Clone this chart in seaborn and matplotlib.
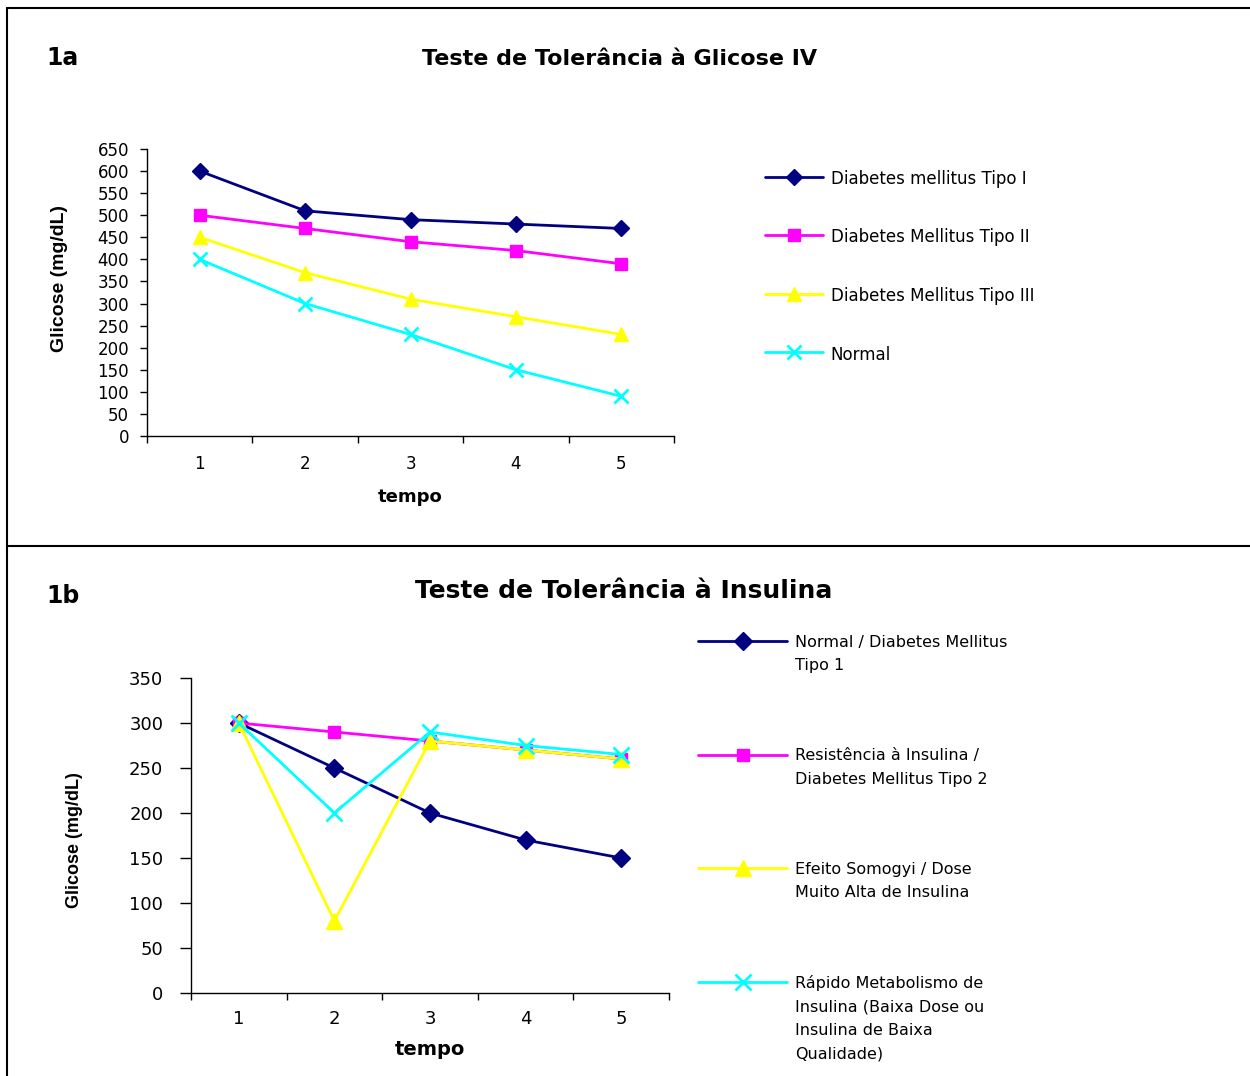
import seaborn as sns
import matplotlib.pyplot as plt
from matplotlib.lines import Line2D

# eixo x (tempo)
tempo = [1, 2, 3, 4, 5]

# 1a - Teste de Tolerância à Glicose IV
dm_tipo_i = [600, 510, 490, 480, 470]
dm_tipo_ii = [500, 470, 440, 420, 390]
dm_tipo_iii = [450, 370, 310, 270, 230]
normal = [400, 300, 230, 150, 90]
labels_1a = ['Diabetes mellitus Tipo I', 'Diabetes Mellitus Tipo II',
             'Diabetes Mellitus Tipo III', 'Normal']

# 1b - Teste de Tolerância à Insulina
normal_dm1 = [300, 250, 200, 170, 150]
resistencia = [300, 290, 280, 270, 260]
somogyi = [300, 80, 280, 270, 260]
rapido = [300, 200, 290, 275, 265]
labels_1b = ['Normal / Diabetes Mellitus\nTipo 1',
             'Resistência à Insulina /\nDiabetes Mellitus Tipo 2',
             'Efeito Somogyi / Dose\nMuito Alta de Insulina',
             'Rápido Metabolismo de\nInsulina (Baixa Dose ou\nInsulina de Baixa\nQualidade)']

colors = ['#000080', '#FF00FF', '#FFFF00', '#00FFFF']
markers = ['D', 's', '^', 'x']

sns.set_style('ticks')
plt.rcParams['font.family'] = ['DejaVu Sans']
plt.rcParams.update({'text.color': 'black', 'axes.labelcolor': 'black',
                     'xtick.color': 'black', 'ytick.color': 'black'})

W, H = 1250, 1076
fig = plt.figure(figsize=(W / 100, H / 100), dpi=100)


def px_axes(left, top, right, bottom):
    return fig.add_axes([left / W, 1 - bottom / H, (right - left) / W, (bottom - top) / H])


def draw_panel(ax, series, labels, ymax, msizes, tick_font, tick_pad, ytick_len, ytick_pad):
    for values, label, c, m, ms in zip(series, labels, colors, markers, msizes):
        sns.lineplot(x=tempo, y=values, ax=ax, label=label, color=c, linewidth=2,
                     marker=m, markersize=ms, markeredgecolor=c,
                     markeredgewidth=2 if m == 'x' else 1)
    ax.set_xlim(0.5, 5.5)
    ax.set_ylim(0, ymax)
    ax.set_yticks(range(0, ymax + 1, 50))
    ax.set_xticks([0.5, 1.5, 2.5, 3.5, 4.5, 5.5], labels=[])
    ax.set_xticks(tempo, labels=[str(t) for t in tempo], minor=True)
    ax.tick_params(axis='x', which='major', length=5, width=1, color='black')
    ax.tick_params(axis='x', which='minor', length=0, pad=tick_pad, labelsize=tick_font)
    ax.tick_params(axis='y', length=ytick_len, width=1, color='black', pad=ytick_pad,
                   labelsize=tick_font)
    for s in ['left', 'bottom']:
        ax.spines[s].set_color('black')
        ax.spines[s].set_linewidth(1)
    sns.despine(ax=ax)


def place_legend(ax, anchor, fontsize, handlelength, labelspacing, linespacing):
    leg = ax.legend(loc='upper left', bbox_to_anchor=anchor, bbox_transform=fig.transFigure,
                    frameon=False, fontsize=fontsize, handlelength=handlelength,
                    handletextpad=0.45, labelspacing=labelspacing, borderpad=0,
                    borderaxespad=0, handleheight=1.0)
    for t in leg.get_texts():
        t.set_linespacing(linespacing)
    # alinhar o marcador com a primeira linha do texto
    for col in leg._legend_handle_box.get_children():
        for row in col.get_children():
            row.align = 'top'
    return leg


# ---- 1a ----
ax1 = px_axes(147, 149, 674, 436)
draw_panel(ax1, [dm_tipo_i, dm_tipo_ii, dm_tipo_iii, normal], labels_1a, 650,
           [8, 8.5, 10, 10], 12, 14, 5, 8)
ax1.set_ylabel('Glicose (mg/dL)', fontsize=14, fontweight='bold', family='Liberation Sans')
ax1.yaxis.set_label_coords(-0.15, 0.55)
ax1.set_xlabel('tempo', fontsize=13, fontweight='bold')
ax1.xaxis.set_label_coords(0.5, -0.18)
place_legend(ax1, (765 / W, 1 - 170 / H), 12, 3.5, 2.43, 1.2)

# ---- 1b ----
ax2 = px_axes(191, 678, 669, 993)
draw_panel(ax2, [normal_dm1, resistencia, somogyi, rapido], labels_1b, 350,
           [9, 9, 11, 11], 13, 12, 8, 12)
ax2.set_ylabel('Glicose (mg/dL)', fontsize=13, fontweight='bold', family='Liberation Sans')
ax2.yaxis.set_label_coords(-0.226, 0.486)
ax2.set_xlabel('tempo', fontsize=14, fontweight='bold')
ax2.xaxis.set_label_coords(0.5, -0.15)
place_legend(ax2, (698 / W, 1 - 635 / H), 11.5, 5.6, 4.7, 1.7)

# ---- titulos e moldura ----
fig.text(620 / W, 1 - 59 / H, 'Teste de Tolerância à Glicose IV', ha='center', va='center',
         fontsize=16, fontweight='bold')
fig.text(624 / W, 1 - 591 / H, 'Teste de Tolerância à Insulina', ha='center', va='center',
         fontsize=18, fontweight='bold')
fig.text(46 / W, 1 - 58 / H, '1a', ha='left', va='center', fontsize=17, fontweight='bold')
fig.text(46 / W, 1 - 596 / H, '1b', ha='left', va='center', fontsize=17, fontweight='bold')

frame = dict(transform=fig.transFigure, color='black', linewidth=1.5)
fig.add_artist(Line2D([7 / W, 1], [1 - 8 / H, 1 - 8 / H], **frame))
fig.add_artist(Line2D([7 / W, 7 / W], [0, 1 - 8 / H], **frame))
fig.add_artist(Line2D([7 / W, 1], [1 - 546 / H, 1 - 546 / H], **frame))

fig.savefig('out.png', dpi=100)
